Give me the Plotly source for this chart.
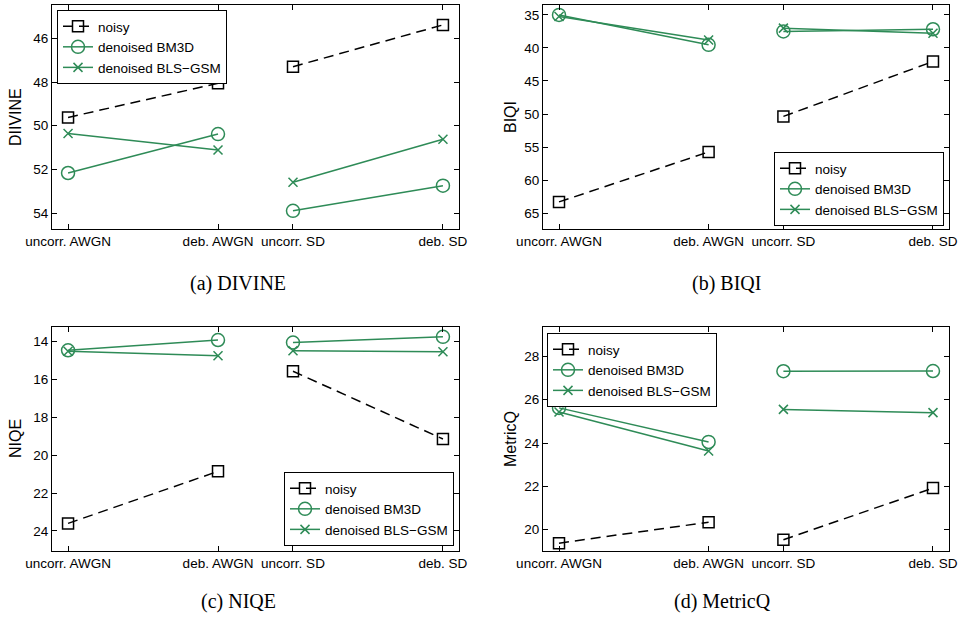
import plotly.graph_objects as go

# Test conditions on the x axis: an AWGN pair and a structured-noise (SD) pair
conditions = ["uncorr. AWGN", "deb. AWGN", "uncorr. SD", "deb. SD"]
cond_pos = [1.0, 2.0, 2.5, 3.5]

series_names = ["noisy", "denoised BM3D", "denoised BLS\u2212GSM"]

# Quality scores per condition
divine_noisy = [49.62, 48.06, 47.30, 45.39]
divine_bm3d = [52.16, 50.38, 53.89, 52.74]
divine_bls = [50.35, 51.11, 52.58, 50.62]

biqi_noisy = [63.30, 55.74, 50.36, 42.05]
biqi_bm3d = [35.00, 39.53, 37.50, 37.17]
biqi_bls = [35.25, 38.80, 37.00, 37.77]

niqe_noisy = [23.60, 20.85, 15.56, 19.14]
niqe_bm3d = [14.45, 13.91, 14.04, 13.74]
niqe_bls = [14.50, 14.74, 14.48, 14.53]

metricq_noisy = [19.38, 20.35, 19.54, 21.92]
metricq_bm3d = [25.62, 24.05, 27.31, 27.32]
metricq_bls = [25.43, 23.63, 25.55, 25.40]

W, H = 966, 619
GREEN = "#2e8b57"
SANS = "Liberation Sans, Arial, sans-serif"
SERIF = "Liberation Serif, Times New Roman, serif"


def px_x(v):
    return v / W


def px_y(v):
    return 1 - v / H


panels = [
    dict(name="DIIVINE", caption="(a) DIVINE",
         data=[divine_noisy, divine_bm3d, divine_bls],
         xdom=(52, 459), ydom=(5, 229), yrange=(54.72, 44.48),
         ticks=[46, 48, 50, 52, 54],
         legend=dict(x=px_x(57), y=px_y(10), xanchor="left", yanchor="top"),
         label_x=15, cap_x=238, cap_y=283),
    dict(name="BIQI", caption="(b) BIQI",
         data=[biqi_noisy, biqi_bm3d, biqi_bls],
         xdom=(543, 949), ydom=(5, 229), yrange=(67.4, 33.5),
         ticks=[35, 40, 45, 50, 55, 60, 65],
         legend=dict(x=px_x(944), y=px_y(226), xanchor="right", yanchor="bottom"),
         label_x=510, cap_x=726, cap_y=283),
    dict(name="NIQE", caption="(c) NIQE",
         data=[niqe_noisy, niqe_bm3d, niqe_bls],
         xdom=(52, 459), ydom=(327, 551), yrange=(25.06, 13.22),
         ticks=[14, 16, 18, 20, 22, 24],
         legend=dict(x=px_x(454), y=px_y(546), xanchor="right", yanchor="bottom"),
         label_x=15, cap_x=238, cap_y=601),
    dict(name="MetricQ", caption="(d) MetricQ",
         data=[metricq_noisy, metricq_bm3d, metricq_bls],
         xdom=(543, 949), ydom=(327, 551), yrange=(19.02, 29.35),
         ticks=[20, 22, 24, 26, 28],
         legend=dict(x=px_x(547), y=px_y(333), xanchor="left", yanchor="top"),
         label_x=510, cap_x=722, cap_y=601),
]

styles = [
    dict(line=dict(color="black", width=1.5, dash="10px,6px"),
         marker=dict(symbol="square-open", size=11, color="black",
                     line=dict(width=1.5, color="black"))),
    dict(line=dict(color=GREEN, width=1.5),
         marker=dict(symbol="circle-open", size=13, color=GREEN,
                     line=dict(width=1.5, color=GREEN))),
    dict(line=dict(color=GREEN, width=1.5),
         marker=dict(symbol="x-thin-open", size=9, color=GREEN,
                     line=dict(width=1.5, color=GREEN))),
]


def split_pairs(values):
    # break the line between the AWGN pair and the SD pair
    xs = cond_pos[:2] + [None] + cond_pos[2:]
    ys = list(values[:2]) + [None] + list(values[2:])
    return xs, ys


fig = go.Figure()
layout = dict(
    width=W, height=H,
    margin=dict(l=0, r=0, t=0, b=0, autoexpand=False),
    paper_bgcolor="white", plot_bgcolor="white",
    font=dict(family=SANS, size=13, color="black"),
    annotations=[],
)

for k, p in enumerate(panels):
    idx = "" if k == 0 else str(k + 1)
    leg = "legend" if k == 0 else f"legend{k + 1}"
    for s, (name, vals) in enumerate(zip(series_names, p["data"])):
        xs, ys = split_pairs(vals)
        fig.add_trace(go.Scatter(
            x=xs, y=ys, name=name, mode="lines+markers",
            connectgaps=False, xaxis=f"x{idx}", yaxis=f"y{idx}",
            legend=leg, line=styles[s]["line"], marker=styles[s]["marker"],
        ))

    axis_common = dict(
        showline=True, linecolor="black", linewidth=1, mirror="ticks",
        ticks="inside", ticklen=5, tickwidth=1, tickcolor="black",
        showgrid=False, zeroline=False, automargin=False,
        tickfont=dict(family=SANS, size=13.5, color="black"),
    )
    layout[f"xaxis{idx}"] = dict(
        axis_common,
        domain=[px_x(p["xdom"][0]), px_x(p["xdom"][1])],
        anchor=f"y{idx}", range=[0.893, 3.607],
        tickmode="array", tickvals=cond_pos, ticktext=conditions,
    )
    layout[f"yaxis{idx}"] = dict(
        axis_common,
        domain=[px_y(p["ydom"][1]), px_y(p["ydom"][0])],
        anchor=f"x{idx}", range=list(p["yrange"]),
        tickmode="array", tickvals=p["ticks"],
    )
    layout[leg] = dict(
        p["legend"],
        bgcolor="white", bordercolor="black", borderwidth=1,
        font=dict(family=SANS, size=13.5, color="black"),
        tracegroupgap=0, itemwidth=30,
    )

    ymid = (p["ydom"][0] + p["ydom"][1]) / 2
    layout["annotations"].append(dict(
        text=p["name"], x=px_x(p["label_x"]), y=px_y(ymid),
        xref="paper", yref="paper", showarrow=False, textangle=-90,
        xanchor="center", yanchor="middle",
        font=dict(family=SANS, size=16, color="black"),
    ))
    layout["annotations"].append(dict(
        text=p["caption"], x=px_x(p["cap_x"]), y=px_y(p["cap_y"]),
        xref="paper", yref="paper", showarrow=False,
        xanchor="center", yanchor="middle",
        font=dict(family=SERIF, size=20, color="black"),
    ))

fig.update_layout(**layout)
fig.write_html("out.html")
